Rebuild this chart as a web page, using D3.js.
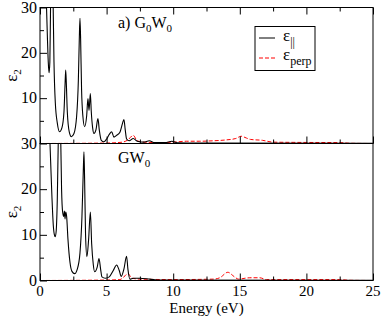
<!DOCTYPE html>
<html>
<head>
<meta charset="utf-8">
<script src="https://cdn.jsdelivr.net/npm/d3@7"></script>
<style>
  body { margin: 0; background: #fff; }
  svg text { font-family: "Liberation Serif", "Times New Roman", serif; fill: #000; }
</style>
</head>
<body>
<div id="chart"></div>
<script>
// data: [energy (eV), eps2]
var g0w0Par = [[0.45,34],[0.55,24],[0.62,18],[0.68,15.6],[0.74,18],[0.8,32],[0.9,40],[0.98,32],[1.05,18],[1.15,9],[1.3,4.5],[1.47,2.6],[1.65,3.5],[1.8,7],[1.88,13],[1.93,16.2],[1.98,13],[2.05,7],[2.2,2.5],[2.35,1.5],[2.55,2.2],[2.75,6],[2.88,14],[2.95,23],[3.0,27.6],[3.05,23],[3.12,12],[3.22,6],[3.35,3.7],[3.5,6],[3.6,9.9],[3.68,7.3],[3.78,11],[3.85,7],[3.95,3.5],[4.05,2.2],[4.2,3],[4.35,5.5],[4.45,3],[4.6,0.7],[4.8,0.4],[5.0,1.0],[5.2,2.0],[5.38,2.6],[5.55,1.4],[5.75,1.8],[6.0,2.5],[6.2,4.5],[6.3,5.3],[6.4,3],[6.5,1.0],[6.7,0.6],[7.0,1.1],[7.3,0.5],[7.8,0.3],[8.2,0.6],[8.6,0.2],[9.4,0.2],[9.9,0.5],[10.3,0.15],[12,0.1],[25,0.05]];
var g0w0Perp = [[0,0],[5,0.1],[6.2,0.3],[6.6,0.8],[7.0,1.8],[7.3,0.6],[7.8,0.3],[9,0.2],[10,0.3],[11,0.5],[12,0.5],[13,0.6],[14,0.8],[14.7,1.1],[15.1,1.6],[15.5,1.2],[15.8,0.9],[16.7,0.7],[17.5,0.3],[19,0.25],[22.5,0.2],[23.3,0.05],[25,0]];
var gw0Par = [[0.7,34],[0.8,26],[0.9,18],[1.0,12],[1.1,9.8],[1.15,9.6],[1.22,11],[1.3,18],[1.38,32],[1.47,40],[1.55,32],[1.62,20],[1.7,15],[1.78,14],[1.83,15.2],[1.88,13.5],[1.93,15],[2.0,14],[2.1,9],[2.25,4],[2.4,2],[2.6,1.5],[2.8,2.5],[3.0,6],[3.15,14],[3.25,24],[3.3,28.2],[3.35,22],[3.42,10],[3.52,5.2],[3.65,9],[3.78,15],[3.88,8],[4.0,3.5],[4.1,1.9],[4.3,3],[4.43,4.8],[4.55,2.5],[4.65,0.8],[4.9,0.5],[5.2,0.8],[5.5,2.2],[5.75,3.4],[5.95,2.2],[6.1,0.9],[6.3,2.5],[6.5,5.3],[6.6,2.5],[6.75,0.3],[7.0,0.5],[7.5,0.5],[8.25,0.3],[9,0.1],[25,0.05]];
var gw0Perp = [[0,0],[5,0.1],[6.0,0.2],[6.3,0.8],[6.6,1.5],[6.9,0.5],[7.5,0.3],[10,0.2],[13,0.3],[13.5,0.6],[14.1,1.8],[14.6,0.8],[14.9,0.3],[15.4,0.5],[15.75,0.6],[16.5,0.6],[17,0.2],[22.5,0.2],[23.2,0.05],[25,0]];

var xTicks = [0, 5, 10, 15, 20, 25];
var xMinor = [2.5, 7.5, 12.5, 17.5, 22.5];
var yTicksTop = [10, 20, 30];
var yTicksBottom = [0, 10, 20, 30];
var yMinor = [5, 15, 25];

var svgWidth = 382;
var svgHeight = 316;
var left = 40, right = 373;
var serif = "'Liberation Serif', 'Times New Roman', serif";

var svg = d3.select("#chart")
    .append("svg")
    .attr("width", svgWidth)
    .attr("height", svgHeight)
    .attr("font-family", serif);

var x = d3.scaleLinear().domain([0, 25]).range([left, right]);

var panels = [
    { id: "top", y0: 7.5, y1: 143.5, par: g0w0Par, perp: g0w0Perp, yTicks: yTicksTop, topTicks: true },
    { id: "bot", y0: 143.5, y1: 280.5, par: gw0Par, perp: gw0Perp, yTicks: yTicksBottom, topTicks: false }
];

panels.forEach(function(p) {
    var y = d3.scaleLinear().domain([0, 30]).range([p.y1, p.y0]);

    svg.append("clipPath").attr("id", "clip-" + p.id)
        .append("rect")
        .attr("x", left).attr("y", p.y0)
        .attr("width", right - left).attr("height", p.y1 - p.y0);

    var line = d3.line()
        .x(d => x(d[0]))
        .y(d => y(d[1]))
        .curve(d3.curveMonotoneX);

    var g = svg.append("g").attr("clip-path", "url(#clip-" + p.id + ")");
    g.append("path")
        .attr("d", line(p.perp))
        .attr("fill", "none")
        .attr("stroke", "#ff0000")
        .attr("stroke-width", 1)
        .attr("stroke-dasharray", "4,2");
    g.append("path")
        .attr("d", line(p.par))
        .attr("fill", "none")
        .attr("stroke", "#000")
        .attr("stroke-width", 1.1);

    // y axis ticks (inward)
    var leftAxis = d3.axisRight(y).tickValues(p.yTicks).tickSize(7).tickFormat("");
    svg.append("g").attr("transform", `translate(${left},0)`).call(leftAxis)
        .call(a => a.select(".domain").remove());
    var leftMinor = d3.axisRight(y).tickValues(yMinor).tickSize(4).tickFormat("");
    svg.append("g").attr("transform", `translate(${left},0)`).call(leftMinor)
        .call(a => a.select(".domain").remove());

    // y labels
    svg.append("g").selectAll("text")
        .data(p.yTicks)
        .enter()
        .append("text")
        .attr("x", left - 3)
        .attr("y", d => y(d) + 5)
        .attr("text-anchor", "end")
        .attr("font-family", serif)
        .attr("font-size", 16)
        .text(d => d);

    // bottom ticks (upward)
    var bAxis = d3.axisTop(x).tickValues(xTicks).tickSize(7).tickFormat("");
    svg.append("g").attr("transform", `translate(0,${p.y1})`).call(bAxis)
        .call(a => a.select(".domain").remove());
    var bMinor = d3.axisTop(x).tickValues(xMinor).tickSize(4).tickFormat("");
    svg.append("g").attr("transform", `translate(0,${p.y1})`).call(bMinor)
        .call(a => a.select(".domain").remove());

    if (p.topTicks) {
        var tAxis = d3.axisBottom(x).tickValues(xTicks).tickSize(7).tickFormat("");
        svg.append("g").attr("transform", `translate(0,${p.y0})`).call(tAxis)
            .call(a => a.select(".domain").remove());
        var tMinor = d3.axisBottom(x).tickValues(xMinor).tickSize(4).tickFormat("");
        svg.append("g").attr("transform", `translate(0,${p.y0})`).call(tMinor)
            .call(a => a.select(".domain").remove());
    }

    // frame
    svg.append("rect")
        .attr("x", left).attr("y", p.y0)
        .attr("width", right - left).attr("height", p.y1 - p.y0)
        .attr("fill", "none")
        .attr("stroke", "#000")
        .attr("stroke-width", 1);

    // eps_2 label
    var yl = svg.append("text")
        .attr("transform", `translate(17,${(p.y0 + p.y1) / 2}) rotate(-90)`)
        .attr("text-anchor", "middle")
        .attr("font-family", serif)
        .attr("font-size", 17);
    yl.append("tspan").text("ε");
    yl.append("tspan").attr("font-size", 11).attr("dy", 4).text("2");
});

svg.selectAll("g.tick line").attr("stroke", "#000");

// x tick labels
svg.append("g").selectAll("text")
    .data(xTicks)
    .enter()
    .append("text")
    .attr("x", d => x(d))
    .attr("y", 296)
    .attr("text-anchor", "middle")
    .attr("font-family", serif)
    .attr("font-size", 15)
    .text(d => d);

svg.append("text")
    .attr("x", (left + right) / 2)
    .attr("y", 312.5)
    .attr("text-anchor", "middle")
    .attr("font-family", serif)
    .attr("font-size", 15)
    .text("Energy (eV)");

// panel titles
var t1 = svg.append("text").attr("x", 118).attr("y", 28)
    .attr("font-family", serif).attr("font-size", 16);
t1.append("tspan").text("a) G");
t1.append("tspan").attr("font-size", 11).attr("dy", 4).text("0");
t1.append("tspan").attr("dy", -4).text("W");
t1.append("tspan").attr("font-size", 11).attr("dy", 4).text("0");

var t2 = svg.append("text").attr("x", 118).attr("y", 163)
    .attr("font-family", serif).attr("font-size", 16);
t2.append("tspan").text("GW");
t2.append("tspan").attr("font-size", 11).attr("dy", 4).text("0");

// legend
var lg = svg.append("g");
lg.append("rect")
    .attr("x", 255).attr("y", 26.5)
    .attr("width", 60).attr("height", 44)
    .attr("fill", "#fff")
    .attr("stroke", "#000");
lg.append("line")
    .attr("x1", 259).attr("x2", 275).attr("y1", 38).attr("y2", 38)
    .attr("stroke", "#000");
lg.append("line")
    .attr("x1", 259).attr("x2", 275).attr("y1", 58).attr("y2", 58)
    .attr("stroke", "#ff0000")
    .attr("stroke-dasharray", "4,2");
var l1 = lg.append("text").attr("x", 283).attr("y", 41)
    .attr("font-family", serif).attr("font-size", 17);
l1.append("tspan").text("ε");
l1.append("tspan").attr("font-size", 12).attr("dy", 5).text("||");
var l2 = lg.append("text").attr("x", 283).attr("y", 60)
    .attr("font-family", serif).attr("font-size", 17);
l2.append("tspan").text("ε");
l2.append("tspan").attr("font-size", 12).attr("dy", 5).text("perp");
</script>
</body>
</html>
